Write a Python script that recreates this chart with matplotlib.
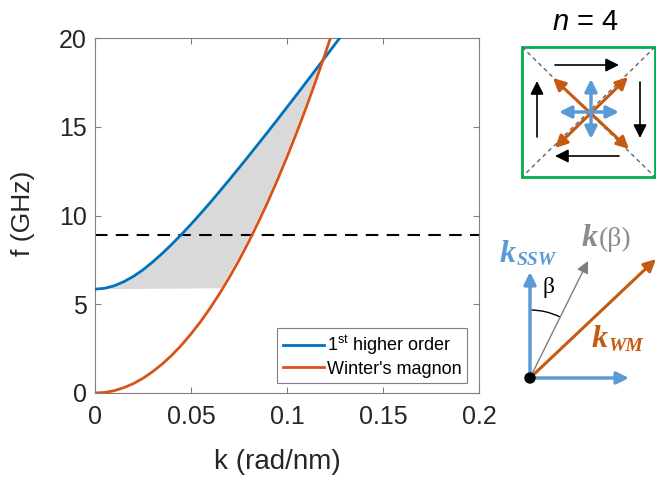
import numpy as np
import matplotlib
matplotlib.use("Agg")
import matplotlib.pyplot as plt
from matplotlib.patches import Rectangle, Arc, Circle

plt.rcParams['font.family'] = ['Liberation Sans', 'DejaVu Sans']
plt.rcParams['mathtext.fontset'] = 'custom'
plt.rcParams['mathtext.rm'] = 'Liberation Sans'
plt.rcParams['mathtext.it'] = 'Liberation Sans:italic'

# dispersion curves (k in rad/nm, f in GHz)
k = [0, 0.005, 0.01, 0.015, 0.02, 0.025, 0.03, 0.035, 0.04, 0.045, 0.05,
     0.055, 0.06, 0.065, 0.07, 0.075, 0.08, 0.085, 0.09, 0.095, 0.10,
     0.105, 0.11, 0.115, 0.12, 0.125, 0.13]
f_higher = [5.85, 5.90, 6.04, 6.27, 6.57, 6.94, 7.38, 7.86, 8.38, 8.93, 9.51,
            10.11, 10.73, 11.37, 12.02, 12.68, 13.35, 14.03, 14.71, 15.40, 16.10,
            16.80, 17.51, 18.22, 18.93, 19.65, 20.36]
f_winter = [0, 0.03, 0.13, 0.30, 0.53, 0.83, 1.20, 1.63, 2.13, 2.69, 3.33,
            4.02, 4.79, 5.62, 6.52, 7.48, 8.51, 9.61, 10.77, 12.00, 13.30,
            14.66, 16.09, 17.59, 19.15, 20.78, 22.48]

# right-hand edge of the shaded band (slightly left of the magnon curve)
edge_k = [0.119, 0.115, 0.110, 0.105, 0.100, 0.095, 0.090, 0.085, 0.080, 0.075, 0.070, 0.0655, 0.03, 0.0]
edge_f = [18.85, 17.85, 16.35, 14.90, 13.55, 12.25, 11.00, 9.85, 8.75, 7.70, 6.75, 5.90, 5.87, 5.85]
f_cross = 8.9

xticks = [0, 0.05, 0.1, 0.15, 0.2]
xticklabels = ['0', '0.05', '0.1', '0.15', '0.2']
yticks = [0, 5, 10, 15, 20]

blue = '#0072BD'
orange = '#D95319'
lblue = '#5B9BD5'
dorange = '#C55A11'

fig = plt.figure(figsize=(6.56, 4.83), dpi=100)
ax = fig.add_axes([95 / 656, 90 / 483, 384 / 656, 355 / 483])

# shaded region between the two branches
top_k = [x for x in k if x <= 0.115] + [edge_k[0]]
top_f = [f for x, f in zip(k, f_higher) if x <= 0.115] + [edge_f[0]]
ax.fill(top_k + edge_k[1:], top_f + edge_f[1:], color='#d9d9d9', lw=0, zorder=1)

ax.plot(k, f_higher, color=blue, lw=2, label=r'1$^{\mathrm{st}}$ higher order', zorder=3)
ax.plot(k, f_winter, color=orange, lw=2, label="Winter's magnon", zorder=3)
ax.axhline(f_cross, color='black', lw=1.5, dashes=(6, 4), zorder=2)

ax.set_xlim(0, 0.2)
ax.set_ylim(0, 20)
ax.set_xticks(xticks)
ax.set_xticklabels(xticklabels)
ax.set_yticks(yticks)
ax.tick_params(direction='in', top=True, right=True, length=4, width=0.8,
               colors='#808080', labelcolor='#262626', labelsize=18)
ax.tick_params(axis='x', pad=9)
ax.tick_params(axis='y', pad=6)
for s in ax.spines.values():
    s.set_color('#808080')
    s.set_linewidth(0.8)

ax.set_xlabel('k (rad/nm)', fontsize=20, color='#262626')
ax.set_ylabel('f (GHz)', fontsize=19, color='#262626')
ax.xaxis.set_label_coords(0.475, -0.158)
ax.yaxis.set_label_coords(-0.155, 0.505)

leg = ax.legend(loc='lower right', bbox_to_anchor=(0.969, 0.028), borderaxespad=0,
                fontsize=13, fancybox=False, framealpha=1, edgecolor='#808080',
                handlelength=2.3, handletextpad=0.15, borderpad=0.3, labelspacing=0.2)
leg.get_frame().set_linewidth(0.8)

# overlay in pixel units for the sketches on the right
ov = fig.add_axes([0, 0, 1, 1])
ov.set_xlim(0, 656)
ov.set_ylim(483, 0)
ov.axis('off')


def arrow(p0, p1, color, lw, style='-|>', scale=14):
    ov.annotate('', xy=p1, xytext=p0,
                arrowprops=dict(arrowstyle=style, color=color, lw=lw,
                                shrinkA=0, shrinkB=0, mutation_scale=scale))


ov.text(585, 22, r'$n$ = 4', fontsize=21, ha='center', va='center', color='black')
ov.add_patch(Rectangle((522, 47), 133, 130, fill=False, ec='#00B050', lw=2))
ov.plot([522, 655], [47, 177], color='#666666', lw=1, dashes=(3, 2.5))
ov.plot([655, 522], [47, 177], color='#666666', lw=1, dashes=(3, 2.5))

arrow((555, 65), (619, 65), 'black', 1.2, '-|>', 20)
arrow((640, 82), (640, 138), 'black', 1.2, '-|>', 20)
arrow((619, 156), (555, 156), 'black', 1.2, '-|>', 20)
arrow((537, 137), (537, 81), 'black', 1.2, '-|>', 20)

arrow((553, 78), (629, 149), dorange, 2.2, '<|-|>', 18)
arrow((628, 77), (555, 148), dorange, 2.2, '<|-|>', 18)
arrow((591, 79), (591, 139), lblue, 2.5, '<|-|>', 18)
arrow((559, 112), (619, 112), lblue, 2.5, '<|-|>', 18)

# wave-vector sketch
o = (530, 378)
arrow(o, (530, 272), lblue, 2.5, '-|>', 18)
arrow(o, (629, 378), lblue, 2.5, '-|>', 18)
arrow(o, (588, 261), '#7F7F7F', 1, '-|>', 18)
arrow(o, (656, 259), dorange, 2.2, '-|>', 18)
ov.add_patch(Arc(o, 136, 136, theta1=270, theta2=296, color='black', lw=1))
ov.add_patch(Circle(o, 5, color='black', zorder=5))

ov.text(548, 287, 'β', fontsize=17, family='Liberation Serif', ha='center', va='center')

fig.canvas.draw()
rend = fig.canvas.get_renderer()


def klabel(x, y, sub, color, sub_dy, sub_style='italic', sub_size=14, sub_weight='bold'):
    # bold italic k with a subscript placed right after it
    t = ov.text(x, y, 'k', fontsize=23, family='Liberation Serif', weight='bold',
                style='italic', color=color)
    bb = t.get_window_extent(renderer=rend)
    x2 = ov.transData.inverted().transform((bb.x1, bb.y0))[0]
    ov.text(x2 + 1, y + sub_dy, sub, fontsize=sub_size, family='Liberation Serif',
            weight=sub_weight, style=sub_style, color=color)


klabel(500, 262, 'SSW', lblue, 3)
klabel(582, 246, '(β)', '#8C8C8C', 0, 'normal', 20, 'normal')
klabel(592, 347, 'WM', dorange, 4)

fig.savefig('out.png', dpi=100)
